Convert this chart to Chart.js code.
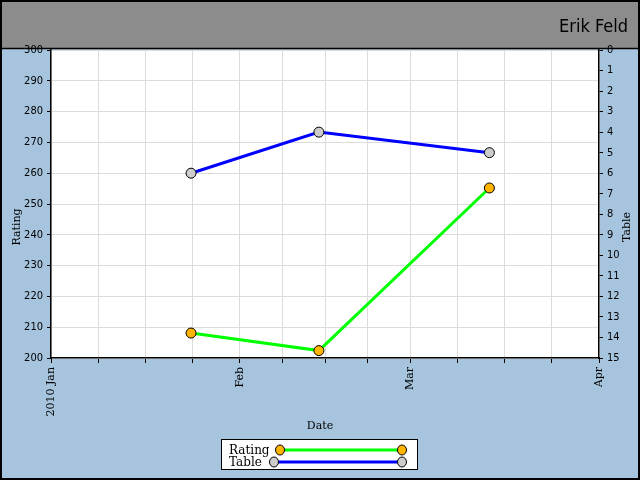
<!DOCTYPE html>
<html>
<head>
<meta charset="utf-8">
<script src="https://cdn.jsdelivr.net/npm/chart.js@4.4.1/dist/chart.umd.min.js"></script>
<style>
  body { margin: 0; background: #fff; }
  canvas { display: block; }
</style>
</head>
<body>
<canvas id="myChart" width="640" height="480"></canvas>
<script>

const dates = ['2010-01-24', '2010-02-14', '2010-03-14'];
const rating = [208.1, 202.4, 255.2];
const table = [6, 4, 5];

const months = ['2010 Jan', 'Feb', 'Mar', 'Apr'];
const monthStarts = ['2010-01-01', '2010-02-01', '2010-03-01', '2010-04-01'];

const chartTitle = 'Erik Feld';
const xTitle = 'Date';

/////////////////////////////////////////////////

const dayMs = 24 * 3600 * 1000;
const origin = Date.parse(monthStarts[0]);

function toDay(s) {
  return (Date.parse(s) - origin) / dayMs;
}

const startDays = monthStarts.map(toDay);

// quarter-month ticks between the month starts
let tickDays = [];
for (let i = 0; i < startDays.length - 1; i++) {
  const a = startDays[i], b = startDays[i + 1];
  for (let k = 0; k < 4; k++) tickDays.push(a + (b - a) * k / 4);
}
tickDays.push(startDays[startDays.length - 1]);

const serif = '"DejaVu Serif", serif';
const sans = '"DejaVu Sans Condensed", "DejaVu Sans", sans-serif';

const frame = {
  id: 'frame',
  beforeDraw(chart) {
    const ctx = chart.ctx;
    ctx.save();
    ctx.fillStyle = '#a6c4dd';
    ctx.fillRect(0, 0, 640, 480);
    ctx.fillStyle = '#8c8c8c';
    ctx.fillRect(0, 0, 640, 48);
    const a = chart.chartArea;
    ctx.fillStyle = '#ffffff';
    ctx.fillRect(a.left, a.top, a.right - a.left, a.bottom - a.top);
    ctx.restore();
  },
  afterDraw(chart) {
    const ctx = chart.ctx;
    ctx.save();
    // frame lines
    ctx.strokeStyle = '#000';
    ctx.lineWidth = 2;
    ctx.strokeRect(1, 1, 638, 478);
    ctx.beginPath();
    ctx.moveTo(0, 48.5);
    ctx.lineTo(640, 48.5);
    ctx.lineWidth = 1.5;
    ctx.stroke();

    // title
    ctx.fillStyle = '#000';
    ctx.font = '300 18px "DejaVu Sans Condensed", "DejaVu Sans", sans-serif';
    ctx.textAlign = 'right';
    ctx.textBaseline = 'alphabetic';
    ctx.fillText(chartTitle, 628, 32);

    // axis titles
    ctx.font = '11px ' + serif;
    ctx.textAlign = 'center';
    ctx.textBaseline = 'middle';
    ctx.fillText(xTitle, 320, 426);
    const ds = chart.data.datasets;
    [[17, ds[0].label], [627, ds[1].label]].forEach(function (t) {
      ctx.save();
      ctx.translate(t[0], 227);
      ctx.rotate(-Math.PI / 2);
      ctx.fillText(t[1], 0, 0);
      ctx.restore();
    });

    // legend
    ctx.fillStyle = '#fff';
    ctx.fillRect(221, 439, 197, 31);
    ctx.strokeStyle = '#000';
    ctx.lineWidth = 1;
    ctx.strokeRect(221.5, 439.5, 196, 30);
    const rows = [[450, 280], [462, 274]];
    ds.forEach(function (d, i) {
      const y = rows[i][0], x0 = rows[i][1], x1 = 402;
      ctx.fillStyle = '#000';
      ctx.font = '12px ' + serif;
      ctx.textAlign = 'left';
      ctx.textBaseline = 'middle';
      ctx.fillText(d.label, 229, y + 1);
      ctx.beginPath();
      ctx.moveTo(x0, y);
      ctx.lineTo(x1, y);
      ctx.strokeStyle = d.borderColor;
      ctx.lineWidth = 3;
      ctx.stroke();
      [x0, x1].forEach(function (x) {
        ctx.beginPath();
        ctx.ellipse(x, y, 4.5, 5, 0, 0, Math.PI * 2);
        ctx.fillStyle = d.pointBackgroundColor;
        ctx.fill();
        ctx.lineWidth = 1;
        ctx.strokeStyle = '#000';
        ctx.stroke();
      });
    });
    ctx.restore();
  }
};

const data = {
  datasets: [{
    label: 'Rating',
    yAxisID: 'y',
    data: dates.map((d, i) => ({ x: toDay(d), y: rating[i] })),
    borderColor: '#00ff00',
    borderWidth: 3,
    pointBackgroundColor: '#ffb400',
    pointBorderColor: '#000',
    pointBorderWidth: 1,
    pointRadius: 5,
    tension: 0
  }, {
    label: 'Table',
    yAxisID: 'y1',
    data: dates.map((d, i) => ({ x: toDay(d), y: table[i] })),
    borderColor: '#0000ff',
    borderWidth: 3,
    pointBackgroundColor: '#cccccc',
    pointBorderColor: '#000',
    pointBorderWidth: 1,
    pointRadius: 5,
    tension: 0
  }]
};

const config = {
  type: 'line',
  data: data,
  plugins: [frame],
  options: {
    responsive: false,
    animation: false,
    devicePixelRatio: 1,
    layout: { padding: { top: 50, left: 0, right: 0, bottom: 48 } },
    plugins: {
      legend: { display: false },
      tooltip: { enabled: false }
    },
    scales: {
      x: {
        type: 'linear',
        min: startDays[0],
        max: startDays[startDays.length - 1],
        afterBuildTicks(scale) {
          scale.ticks = tickDays.map(v => ({ value: v }));
        },
        afterFit(scale) { scale.height = 74; },
        ticks: {
          autoSkip: false,
          minRotation: 90,
          maxRotation: 90,
          padding: 4,
          color: '#000',
          font: { family: serif, size: 11 },
          callback(value) {
            const i = startDays.indexOf(value);
            return i >= 0 ? months[i] : '';
          }
        },
        grid: { color: '#dcdcdc', tickColor: '#000', tickLength: 5 },
        border: { color: '#000', width: 1.5 }
      },
      y: {
        position: 'left',
        min: 200,
        max: 300,
        afterFit(scale) { scale.width = 51; },
        ticks: { stepSize: 10, padding: 4, color: '#000', font: { family: sans, size: 11 } },
        grid: { color: '#dcdcdc', tickColor: '#000', tickLength: 4 },
        border: { color: '#000', width: 1.5 }
      },
      y1: {
        position: 'right',
        reverse: true,
        min: 0,
        max: 15,
        afterFit(scale) { scale.width = 41; },
        ticks: { stepSize: 1, padding: 4, color: '#000', font: { family: sans, size: 11 } },
        grid: { drawOnChartArea: false, tickColor: '#000', tickLength: 4 },
        border: { color: '#000', width: 1.5 }
      }
    }
  }
};

const myChart = new Chart(
  document.getElementById('myChart'),
  config
);

</script>
</body>
</html>
